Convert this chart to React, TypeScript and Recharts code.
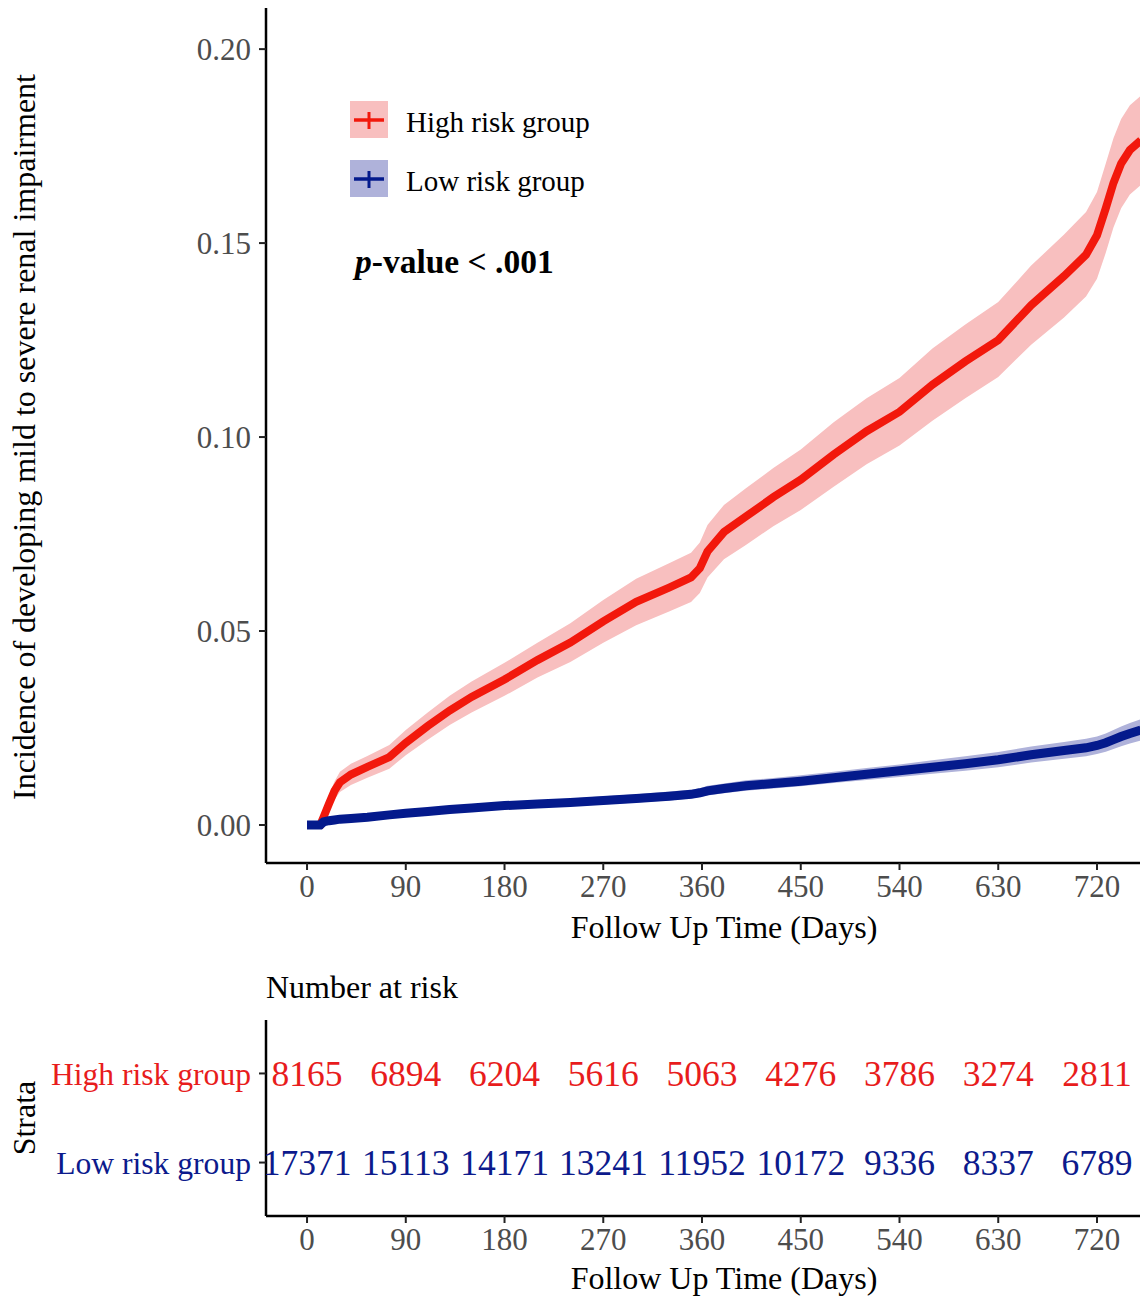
import React from "react";
import { ComposedChart, Area, Line, XAxis, YAxis, ScatterChart, Scatter } from "recharts";

// follow-up days where the curves are read
const days = [0, 12, 15, 20, 25, 30, 40, 55, 75, 90, 110, 130, 150, 180, 210, 240, 270, 300, 330, 350, 358, 365, 380, 400, 425, 450, 480, 510, 540, 570, 600, 630, 660, 690, 710, 720, 728, 735, 742, 750, 760];

// high risk group: cumulative incidence and 95% CI
const highEst = [0, 0, 0.002, 0.0055, 0.0088, 0.011, 0.013, 0.015, 0.0175, 0.0212, 0.0255, 0.0295, 0.033, 0.0375, 0.0425, 0.047, 0.0525, 0.0575, 0.0612, 0.0638, 0.0662, 0.0705, 0.0755, 0.0795, 0.0845, 0.089, 0.0955, 0.1015, 0.1065, 0.1135, 0.1195, 0.125, 0.134, 0.1415, 0.147, 0.152, 0.159, 0.1655, 0.1705, 0.174, 0.1765];
const highLower = [0, 0, 0.0005, 0.0035, 0.0065, 0.0085, 0.0103, 0.0122, 0.0145, 0.018, 0.022, 0.0258, 0.029, 0.0333, 0.038, 0.042, 0.047, 0.0515, 0.055, 0.0575, 0.0598, 0.0638, 0.0685, 0.0722, 0.077, 0.0812, 0.0872, 0.093, 0.0978, 0.1042, 0.11, 0.1155, 0.1238, 0.1308, 0.1362, 0.1408, 0.1475, 0.154, 0.159, 0.1625, 0.165];
const highUpper = [0, 0, 0.0035, 0.0078, 0.0112, 0.0137, 0.0158, 0.0178, 0.0206, 0.0245, 0.029, 0.0333, 0.037, 0.0418, 0.047, 0.052, 0.058, 0.0635, 0.0675, 0.0702, 0.0728, 0.0773, 0.0825, 0.0868, 0.092, 0.0968, 0.1038, 0.11, 0.1152, 0.1228, 0.129, 0.1348, 0.1442, 0.1522, 0.158, 0.1632, 0.1705, 0.177, 0.182, 0.1855, 0.188];

// low risk group: cumulative incidence and 95% CI
const lowEst = [0, 0, 0.0008, 0.0011, 0.0013, 0.0015, 0.0017, 0.002, 0.0026, 0.003, 0.0035, 0.004, 0.0044, 0.005, 0.0054, 0.0058, 0.0063, 0.0068, 0.0074, 0.0079, 0.0083, 0.0088, 0.0094, 0.0101, 0.0107, 0.0113, 0.0122, 0.0131, 0.014, 0.0149, 0.0158, 0.0168, 0.0181, 0.0192, 0.0199, 0.0205, 0.0212, 0.022, 0.0228, 0.0236, 0.0245];
const lowLower = [0, 0, 0.0004, 0.0006, 0.0008, 0.001, 0.0012, 0.0015, 0.002, 0.0024, 0.0028, 0.0032, 0.0036, 0.0041, 0.0045, 0.0049, 0.0053, 0.0058, 0.0063, 0.0068, 0.0072, 0.0076, 0.0082, 0.0088, 0.0094, 0.01, 0.0108, 0.0116, 0.0124, 0.0132, 0.014, 0.0149, 0.0161, 0.0171, 0.0177, 0.0183, 0.0189, 0.0196, 0.0203, 0.021, 0.0218];
const lowUpper = [0, 0, 0.0012, 0.0016, 0.0018, 0.002, 0.0022, 0.0026, 0.0032, 0.0037, 0.0042, 0.0048, 0.0053, 0.0059, 0.0064, 0.0068, 0.0074, 0.0079, 0.0086, 0.0091, 0.0095, 0.0101, 0.0107, 0.0115, 0.0121, 0.0128, 0.0137, 0.0147, 0.0156, 0.0167, 0.0177, 0.0188, 0.0202, 0.0214, 0.0222, 0.0228, 0.0236, 0.0245, 0.0254, 0.0263, 0.0273];

const xTicks = [0, 90, 180, 270, 360, 450, 540, 630, 720];
const yTicks = [0, 0.05, 0.1, 0.15, 0.2];

// number at risk table
const riskTimes = [0, 90, 180, 270, 360, 450, 540, 630, 720];
const highRisk = [8165, 6894, 6204, 5616, 5063, 4276, 3786, 3274, 2811];
const lowRisk = [17371, 15113, 14171, 13241, 11952, 10172, 9336, 8337, 6789];
const groups = ["Low risk group", "High risk group"];

const RED = "#F2180C";
const RED_TXT = "#E81C1C";
const PINK = "#F8BFBF";
const BLUE = "#041A8C";
const BLUE_TXT = "#0C1A8C";
const LAVENDER = "#AFB2DA";
const FONT = '"Liberation Serif", "Times New Roman", serif';

const curveData = days.map((d, i) => ({
  day: d,
  high: highEst[i],
  highBand: [highLower[i], highUpper[i]],
  low: lowEst[i],
  lowBand: [lowLower[i], lowUpper[i]],
}));

const highRows = riskTimes.map((t, i) => ({ day: t, row: 1, n: highRisk[i] }));
const lowRows = riskTimes.map((t, i) => ({ day: t, row: 0, n: lowRisk[i] }));

const xDomain: [number, number] = [-37.4, 759.2];
const tickStyle = { fontSize: 31, fill: "#4D4D4D", fontFamily: FONT };
const axisLine = { stroke: "#000", strokeWidth: 2.5 };
const tickLine = { stroke: "#222", strokeWidth: 2 };

const RowTick = (props: any) => {
  const { x, y, payload } = props;
  const v = payload.value;
  return (
    <text x={x} y={y} dy="0.35em" textAnchor="end" fontSize={31.6} fontFamily={FONT} fill={v === 1 ? RED_TXT : BLUE_TXT}>
      {groups[v]}
    </text>
  );
};

const countShape = (color: string) => (props: any) => {
  const { cx, cy, payload } = props;
  return (
    <text x={cx} y={cy} dy="0.35em" textAnchor="middle" fontSize={35.5} fontFamily={FONT} fill={color}>
      {payload.n}
    </text>
  );
};

export default function App() {
  return (
    <div style={{ position: "absolute", left: 0, top: 0, width: 1140, height: 1296, background: "#fff", fontFamily: FONT, overflow: "hidden" }}>
      <div style={{ position: "absolute", left: 0, top: 0 }}>
        <ComposedChart width={1140} height={960} data={curveData} margin={{ top: 8, right: 0, bottom: 37, left: 0 }}>
          <XAxis
            dataKey="day"
            type="number"
            domain={xDomain}
            allowDataOverflow
            ticks={xTicks}
            height={60}
            tick={tickStyle}
            tickSize={7}
            tickMargin={5}
            axisLine={axisLine}
            tickLine={tickLine}
          />
          <YAxis
            type="number"
            domain={[-0.0098, 0.2106]}
            allowDataOverflow
            ticks={yTicks}
            tickFormatter={(v: number) => v.toFixed(2)}
            width={266}
            tick={tickStyle}
            tickSize={7}
            tickMargin={8}
            axisLine={axisLine}
            tickLine={tickLine}
          />
          <Area dataKey="highBand" stroke="none" fill={PINK} fillOpacity={1} isAnimationActive={false} />
          <Area dataKey="lowBand" stroke="none" fill={LAVENDER} fillOpacity={1} isAnimationActive={false} />
          <Line dataKey="high" stroke={RED} strokeWidth={8} dot={false} isAnimationActive={false} />
          <Line dataKey="low" stroke={BLUE} strokeWidth={9} dot={false} isAnimationActive={false} />
        </ComposedChart>
      </div>

      <div style={{ position: "absolute", left: 0, top: 960 }}>
        <ScatterChart width={1140} height={336} margin={{ top: 60, right: 0, bottom: 35, left: 0 }}>
          <XAxis
            dataKey="day"
            type="number"
            domain={xDomain}
            allowDataOverflow
            ticks={xTicks}
            height={45}
            tick={tickStyle}
            tickSize={7}
            tickMargin={5}
            axisLine={axisLine}
            tickLine={tickLine}
          />
          <YAxis
            dataKey="row"
            type="number"
            domain={[-0.6, 1.6]}
            ticks={[0, 1]}
            width={266}
            tick={<RowTick />}
            tickSize={7}
            tickMargin={8}
            axisLine={axisLine}
            tickLine={tickLine}
          />
          <Scatter data={highRows} shape={countShape(RED_TXT)} isAnimationActive={false} />
          <Scatter data={lowRows} shape={countShape(BLUE_TXT)} isAnimationActive={false} />
        </ScatterChart>
      </div>

      <svg width={1140} height={1296} style={{ position: "absolute", left: 0, top: 0, pointerEvents: "none" }} fontFamily={FONT}>
        <text transform="translate(24,437) rotate(-90)" textAnchor="middle" dy="0.35em" fontSize={32} fill="#000">
          Incidence of developing mild to severe renal impairment
        </text>
        <text x={724} y={927} dy="0.35em" textAnchor="middle" fontSize={32} fill="#000">Follow Up Time (Days)</text>

        <rect x={350} y={101} width={38} height={37} fill={PINK} />
        <line x1={354} y1={120} x2={384} y2={120} stroke={RED} strokeWidth={3.5} />
        <line x1={369} y1={112} x2={369} y2={129} stroke={RED} strokeWidth={3} />
        <text x={406} y={122} dy="0.35em" fontSize={29} fill="#000">High risk group</text>

        <rect x={350} y={160} width={38} height={37} fill={LAVENDER} />
        <line x1={354} y1={179} x2={384} y2={179} stroke={BLUE} strokeWidth={3.5} />
        <line x1={369} y1={171} x2={369} y2={188} stroke={BLUE} strokeWidth={3} />
        <text x={406} y={181} dy="0.35em" fontSize={29} fill="#000">Low risk group</text>

        <text x={355} y={261} dy="0.35em" fontSize={33.5} fontWeight="bold" fill="#000">
          <tspan fontStyle="italic">p</tspan>-value &lt; .001
        </text>

        <text x={266} y={987} dy="0.35em" fontSize={32} fill="#000">Number at risk</text>
        <text transform="translate(24,1118) rotate(-90)" textAnchor="middle" dy="0.35em" fontSize={32} fill="#000">Strata</text>
        <text x={724} y={1278} dy="0.35em" textAnchor="middle" fontSize={32} fill="#000">Follow Up Time (Days)</text>
      </svg>
    </div>
  );
}
